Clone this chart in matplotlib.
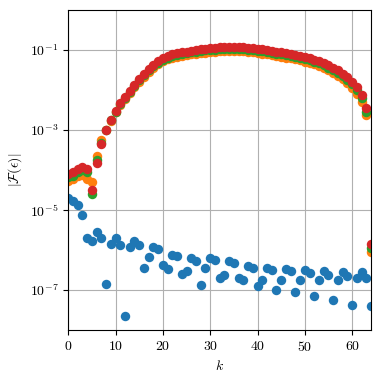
import numpy as np
import matplotlib
matplotlib.use("Agg")
import matplotlib.pyplot as plt

plt.rcParams["font.family"] = "serif"
plt.rcParams["font.serif"] = ["cmr10", "DejaVu Serif"]
plt.rcParams["mathtext.fontset"] = "cm"
plt.rcParams["axes.formatter.use_mathtext"] = True

k = np.arange(65)

# log10 of |F(eps)|
blue_log = [-4.70, -4.77, -4.87, -5.13, -5.70, -5.77, -5.56, -5.70, -6.85, -5.84,
            -5.70, -5.88, -7.66, -5.92, -5.77, -5.87, -6.46, -6.18, -5.92, -5.98,
            -6.37, -6.48, -6.12, -6.16, -6.59, -6.52, -6.21, -6.27, -6.87, -6.46,
            -6.19, -6.24, -6.69, -6.63, -6.28, -6.32, -6.70, -6.75, -6.40, -6.44,
            -6.89, -6.74, -6.44, -6.49, -6.99, -6.74, -6.47, -6.52, -7.04, -6.75,
            -6.49, -6.57, -7.14, -6.75, -6.52, -6.63, -7.25, -6.74, -6.54, -6.64,
            -7.37, -6.70, -6.54, -6.69, -7.40]
orange_log = [-4.28, -4.23, -4.16, -4.12, -4.22, -4.31, -3.64, -3.26, -2.99, -2.77,
              -2.56, -2.37, -2.23, -2.08, -1.93, -1.80, -1.67, -1.55, -1.45, -1.36,
              -1.28, -1.23, -1.19, -1.17, -1.15, -1.13, -1.11, -1.09, -1.08, -1.065,
              -1.05, -1.04, -1.03, -1.025, -1.02, -1.02, -1.025, -1.03, -1.04, -1.06,
              -1.075, -1.09, -1.105, -1.125, -1.145, -1.165, -1.19, -1.21, -1.23, -1.26,
              -1.29, -1.32, -1.36, -1.40, -1.45, -1.51, -1.57, -1.64, -1.73, -1.83,
              -1.94, -2.09, -2.29, -2.63, -6.06]
green_log = [-4.18, -4.14, -4.06, -4.01, -4.04, -4.60, -3.74, -3.33, -3.01, -2.76,
             -2.54, -2.35, -2.20, -2.05, -1.90, -1.76, -1.63, -1.51, -1.41, -1.32,
             -1.24, -1.19, -1.15, -1.12, -1.10, -1.08, -1.06, -1.04, -1.02, -1.01,
             -1.00, -0.99, -0.98, -0.975, -0.97, -0.97, -0.975, -0.98, -0.99, -1.005,
             -1.02, -1.035, -1.05, -1.07, -1.09, -1.11, -1.13, -1.15, -1.17, -1.195,
             -1.22, -1.25, -1.29, -1.33, -1.38, -1.44, -1.50, -1.57, -1.65, -1.75,
             -1.86, -2.00, -2.20, -2.54, -5.95]
red_log = [-4.10, -4.06, -3.98, -3.93, -3.97, -4.50, -3.83, -3.34, -3.00, -2.74,
           -2.52, -2.33, -2.18, -2.02, -1.87, -1.73, -1.60, -1.48, -1.37, -1.28,
           -1.20, -1.15, -1.11, -1.08, -1.06, -1.04, -1.02, -1.00, -0.98, -0.965,
           -0.95, -0.94, -0.93, -0.925, -0.92, -0.92, -0.925, -0.93, -0.94, -0.955,
           -0.97, -0.985, -1.00, -1.02, -1.04, -1.06, -1.08, -1.10, -1.12, -1.145,
           -1.17, -1.20, -1.24, -1.28, -1.33, -1.38, -1.44, -1.51, -1.59, -1.68,
           -1.79, -1.93, -2.12, -2.46, -5.85]

series = [blue_log, orange_log, green_log, red_log]
colors = ["tab:blue", "tab:orange", "tab:green", "tab:red"]

fig = plt.figure(figsize=(3.81, 3.81), dpi=100)
ax = fig.add_axes([0.179, 0.134, 0.795, 0.840])

for vals, c in zip(series, colors):
    ax.plot(k, 10.0 ** np.array(vals), "o", color=c, markersize=6.8, markeredgewidth=0)

ax.set_yscale("log")
ax.set_xlim(0, 64)
ax.set_ylim(1e-8, 1)
ax.set_xticks([0, 10, 20, 30, 40, 50, 60])
ax.set_yticks([1e-7, 1e-5, 1e-3, 1e-1])
ax.yaxis.set_minor_locator(matplotlib.ticker.NullLocator())
ax.grid(True)
ax.set_axisbelow(True)
ax.set_xlabel(r"$k$")
ax.set_ylabel(r"$|\mathcal{F}(\epsilon)|$")

fig.savefig("out.png", dpi=100)
